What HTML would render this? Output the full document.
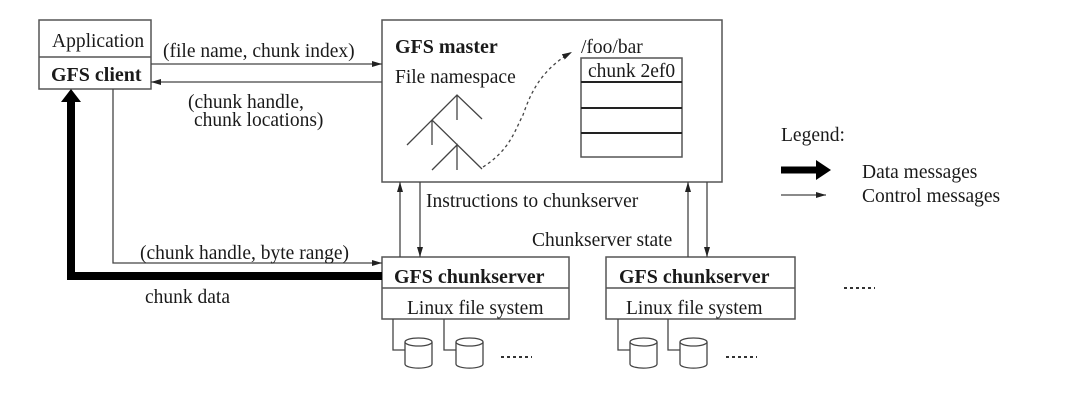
<!DOCTYPE html>
<html><head><style>
html,body{margin:0;padding:0;background:#fff;}
svg{display:block}
text{font-family:"Liberation Serif",serif;font-size:19.5px;fill:#1a1a1a}
.b{font-weight:bold;font-size:20px}
</style></head><body>
<svg width="1080" height="413" viewBox="0 0 1080 413">
<defs>
<marker id="a" markerWidth="10" markerHeight="6" refX="10" refY="3" orient="auto" markerUnits="userSpaceOnUse"><path d="M0,0 L10,3 L0,6 z" fill="#222"/></marker>
</defs>
<g stroke="#555" stroke-width="1.5" fill="none">
<rect x="39" y="20" width="112" height="69"/>
<line x1="39" y1="57" x2="151" y2="57"/>
<rect x="382" y="20" width="340" height="162"/>
<rect x="581" y="58" width="101" height="99"/>
<rect x="382" y="257" width="187" height="62"/>
<line x1="382" y1="288" x2="569" y2="288"/>
<rect x="606" y="257" width="189" height="62"/>
<line x1="606" y1="288" x2="795" y2="288"/>
</g>
<g stroke="#222" stroke-width="2" fill="none">
<line x1="581" y1="82" x2="682" y2="82"/>
<line x1="581" y1="108" x2="682" y2="108"/>
<line x1="581" y1="133" x2="682" y2="133"/>
</g>
<g stroke="#444" stroke-width="1.3" fill="none">
<line x1="151" y1="64" x2="382" y2="64" marker-end="url(#a)"/>
<line x1="382" y1="82" x2="151" y2="82" marker-end="url(#a)"/>
<polyline points="113,89 113,263 382,263" marker-end="url(#a)"/>
<line x1="400" y1="257" x2="400" y2="182" marker-end="url(#a)"/>
<line x1="420" y1="182" x2="420" y2="257" marker-end="url(#a)"/>
<line x1="688" y1="257" x2="688" y2="182" marker-end="url(#a)"/>
<line x1="707" y1="182" x2="707" y2="257" marker-end="url(#a)"/>
<line x1="781" y1="195" x2="826" y2="195" marker-end="url(#a)"/>
<path d="M432,120 L457,95 L482,119 M457,95 L457,120 M407,145 L432,120 L482,169 M432,120 L432,145 M432,170 L457,145 L457,170"/>
<path d="M483,167 C510,150 515,130 523,115 C530,95 540,70 572,52" stroke-dasharray="3,3" marker-end="url(#a)"/>
<polyline points="393,319 393,350 405,350"/>
<polyline points="444,319 444,350 456,350"/>
<polyline points="618,319 618,350 630,350"/>
<polyline points="668,319 668,350 680,350"/>
</g>
<g stroke="#444" stroke-width="1.3" fill="#fff">
<path d="M405,342 v22 a13,4 0 0 0 27,0 v-22"/><ellipse cx="418.5" cy="342" rx="13.5" ry="4"/>
<path d="M456,342 v22 a13,4 0 0 0 27,0 v-22"/><ellipse cx="469.5" cy="342" rx="13.5" ry="4"/>
<path d="M630,342 v22 a13,4 0 0 0 27,0 v-22"/><ellipse cx="643.5" cy="342" rx="13.5" ry="4"/>
<path d="M680,342 v22 a13,4 0 0 0 27,0 v-22"/><ellipse cx="693.5" cy="342" rx="13.5" ry="4"/>
</g>
<g stroke="#333" stroke-width="2" stroke-dasharray="3,3">
<line x1="501" y1="357" x2="532" y2="357"/>
<line x1="726" y1="357" x2="757" y2="357"/>
<line x1="844" y1="288" x2="875" y2="288"/>
</g>
<polyline points="382,276 71,276 71,100" stroke="#000" stroke-width="8" fill="none"/>
<path d="M61,102 L71,89 L81,102 z" fill="#000"/>
<line x1="781" y1="170" x2="818" y2="170" stroke="#000" stroke-width="7"/>
<path d="M816,160 L831,170 L816,180 z" fill="#000"/>
<text x="52" y="47">Application</text>
<text x="51" y="81" class="b">GFS client</text>
<text x="163" y="57">(file name, chunk index)</text>
<text x="188" y="108">(chunk handle,</text>
<text x="194" y="126">chunk locations)</text>
<text x="395" y="53" class="b">GFS master</text>
<text x="395" y="83">File namespace</text>
<text x="581" y="53">/foo/bar</text>
<text x="588" y="77">chunk 2ef0</text>
<text x="426" y="207">Instructions to chunkserver</text>
<text x="532" y="246">Chunkserver state</text>
<text x="140" y="259">(chunk handle, byte range)</text>
<text x="145" y="303">chunk data</text>
<text x="394" y="283" class="b">GFS chunkserver</text>
<text x="407" y="314">Linux file system</text>
<text x="619" y="283" class="b">GFS chunkserver</text>
<text x="626" y="314">Linux file system</text>
<text x="781" y="141">Legend:</text>
<text x="862" y="178">Data messages</text>
<text x="862" y="202">Control messages</text>
</svg>
</body></html>
